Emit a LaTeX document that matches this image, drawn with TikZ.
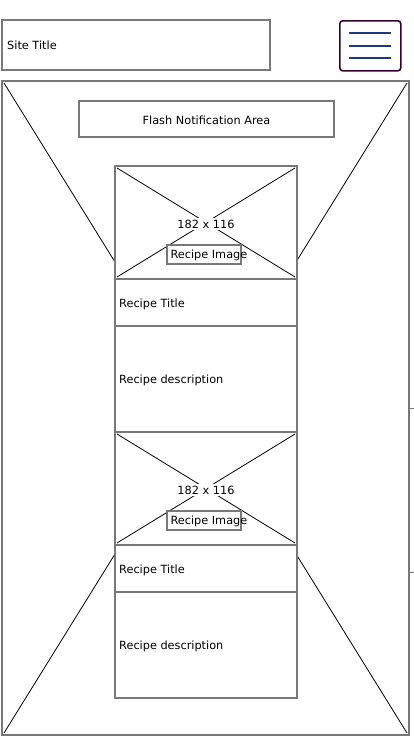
\documentclass[tikz,border=0pt]{standalone}
\usepackage{tikz}
\usetikzlibrary{positioning,calc}
\usepackage{fontspec}
\setmainfont{DejaVu Sans}
\definecolor{Frame}{RGB}{120,120,120}
\definecolor{Burger}{RGB}{51,0,51}
\definecolor{Navy}{RGB}{31,56,130}

\begin{document}
\begin{tikzpicture}[x=1pt,y=-1pt,font=\fontsize{11.3}{13}\selectfont,
  frame/.style={draw=Frame,line width=1.6pt,fill=white,inner sep=0pt,outer sep=0pt,anchor=north west},
  cross/.style={black,line width=0.8pt},
  lbl/.style={anchor=west,inner sep=0pt}]
\useasboundingbox (0,0) rectangle (414,736);
%
% header
\node[frame,minimum width=268pt,minimum height=50pt] (site) at (2,20) {};
\node[lbl] at ([shift={(5,0)}]site.west) {Site Title};
\node[draw=Burger,line width=1.6pt,rounded corners=3pt,minimum width=61pt,minimum height=50pt,anchor=north west] (menu) at (339,20) {};
\foreach \y in {-12.5,0,12.5}
  \draw[Navy,line width=1.8pt] ([shift={(-21,\y)}]menu.center) -- ([shift={(21,\y)}]menu.center);
%
% page placeholder
\node[frame,minimum width=407pt,minimum height=654pt] (page) at (2,81) {};
\draw[cross] ([shift={(2,2)}]page.north west) -- ([shift={(-2,-2)}]page.south east);
\draw[cross] ([shift={(-2,2)}]page.north east) -- ([shift={(2,-2)}]page.south west);
\draw[Frame,line width=0.8pt] (page.east |- 0,408) -- ++(5,0);
\draw[Frame,line width=0.8pt] (page.east |- 0,572) -- ++(5,0);
%
\node[frame,minimum width=255pt,minimum height=36pt] (flash) at (79,101) {};
\node at ([shift={(0,1)}]flash.center) {Flash Notification Area};
%
% recipe cards
\foreach \n/\top in {1/166,2/432} {
  \node[frame,minimum width=182pt,minimum height=113pt] (img\n) at (115,\top) {};
  \draw[cross] ([shift={(2,2)}]img\n.north west) -- ([shift={(-2,-2)}]img\n.south east);
  \draw[cross] ([shift={(-2,2)}]img\n.north east) -- ([shift={(2,-2)}]img\n.south west);
  \node[fill=white,inner sep=1.5pt] (size\n) at ([shift={(0,1.5)}]img\n.center) {182 x 116};
  \node[draw=Frame,line width=1.3pt,fill=white,minimum width=74pt,minimum height=19pt,inner sep=0pt] (cap\n) at ([shift={(-2,32)}]img\n.center) {};
  \node[lbl] at ([shift={(4,0.5)}]cap\n.west) {Recipe Image};
  \node[frame,minimum width=182pt,minimum height=47pt,below=0pt of img\n] (ttl\n) {};
  \node[lbl] at ([shift={(4,1.5)}]ttl\n.west) {Recipe Title};
  \node[frame,minimum width=182pt,minimum height=106pt,below=0pt of ttl\n] (desc\n) {};
  \node[lbl] at ([shift={(4,1.5)}]desc\n.west) {Recipe description};
}
%
\end{tikzpicture}
\end{document}
